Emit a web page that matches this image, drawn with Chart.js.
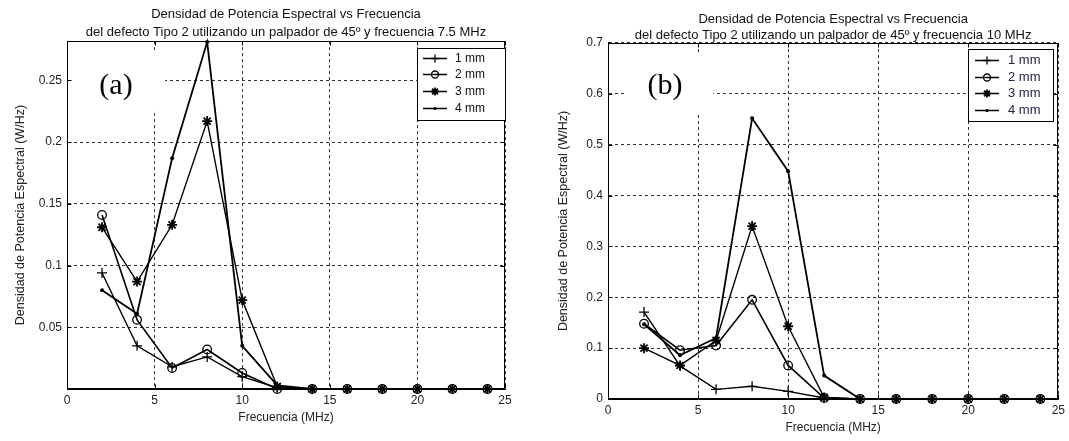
<!DOCTYPE html>
<html>
<head>
<meta charset="utf-8">
<script src="https://cdn.jsdelivr.net/npm/chart.js@4.4.0/dist/chart.umd.min.js"></script>
<style>
  body { margin: 0; background: #fff; }
  .panel { position: absolute; top: 0; }
</style>
</head>
<body>
<canvas id="chartA" class="panel" style="left:0px" width="535" height="441"></canvas>
<canvas id="chartB" class="panel" style="left:535px" width="534" height="441"></canvas>
<script>
// frequencies (MHz) where the spectra were sampled
const freq = [2, 4, 6, 8, 10, 12, 14, 16, 18, 20, 22, 24];
const seriesLabels = ['1 mm', '2 mm', '3 mm', '4 mm'];

// (a) 7.5 MHz probe
const a1mm = [0.094, 0.035, 0.018, 0.026, 0.010, 0.001, 0, 0, 0, 0, 0, 0];
const a2mm = [0.141, 0.056, 0.017, 0.032, 0.013, 0.000, 0, 0, 0, 0, 0, 0];
const a3mm = [0.131, 0.087, 0.133, 0.217, 0.072, 0.002, 0, 0, 0, 0, 0, 0];
const a4mm = [0.080, 0.061, 0.187, 0.281, 0.035, 0.003, 0, 0, 0, 0, 0, 0];

// (b) 10 MHz probe
const b1mm = [0.171, 0.065, 0.019, 0.025, 0.015, 0.002, 0, 0, 0, 0, 0, 0];
const b2mm = [0.148, 0.096, 0.105, 0.195, 0.066, 0.002, 0, 0, 0, 0, 0, 0];
const b3mm = [0.100, 0.066, 0.115, 0.340, 0.143, 0.003, 0, 0, 0, 0, 0, 0];
const b4mm = [0.147, 0.086, 0.120, 0.552, 0.448, 0.046, 0, 0, 0, 0, 0, 0];

const titleA = ['Densidad de Potencia Espectral vs Frecuencia',
                'del defecto Tipo 2 utilizando un palpador de 45º y frecuencia 7.5 MHz'];
const titleB = ['Densidad de Potencia Espectral vs Frecuencia',
                'del defecto Tipo 2 utilizando un palpador de 45º y frecuencia 10 MHz'];
const xTitle = 'Frecuencia (MHz)';
const yTitle = 'Densidad de Potencia Espectral (W/Hz)';

Chart.defaults.font.family = '"Liberation Sans", Arial, sans-serif';
Chart.defaults.font.size = 12;
Chart.defaults.color = '#222';

// marker look for each series (matlab: + o * .)
const markers = [
    {pointStyle: 'cross', pointRadius: 5, pointBorderWidth: 1.3, pointBackgroundColor: '#000', borderWidth: 1.4},
    {pointStyle: 'circle', pointRadius: 4.3, pointBorderWidth: 1.3, pointBackgroundColor: 'rgba(0,0,0,0)', borderWidth: 1.6},
    {pointStyle: 'star', pointRadius: 5, pointBorderWidth: 1.8, pointBackgroundColor: '#000', borderWidth: 1.4},
    {pointStyle: 'circle', pointRadius: 2, pointBorderWidth: 0, pointBackgroundColor: '#000', borderWidth: 1.8}
];

function makeDatasets(list) {
    return list.map((vals, i) => Object.assign({
        label: seriesLabels[i],
        data: freq.map((f, k) => ({x: f, y: vals[k]})),
        borderColor: '#000',
        pointBorderColor: '#000',
        tension: 0,
        fill: false,
        clip: false
    }, markers[i]));
}

// box round the axes with small inward ticks, like matlab
const framePlugin = {
    id: 'frame',
    beforeDatasetsDraw(chart, args, opts) {
        const {ctx, chartArea: a, scales} = chart;
        const L = Math.round(a.left) + 0.5, R = Math.round(a.right) - 0.5;
        const T = Math.round(a.top) + 0.5, B = Math.round(a.bottom) - 0.5;
        ctx.save();
        if (opts.blank) {
            ctx.fillStyle = '#fff';
            const b = opts.blank;
            ctx.fillRect(b[0], b[1], b[2] - b[0], b[3] - b[1]);
        }
        ctx.strokeStyle = '#000';
        ctx.lineWidth = 1;
        ctx.strokeRect(L, T, R - L, B - T);
        ctx.beginPath();
        scales.x.ticks.forEach(t => {
            const px = Math.round(scales.x.getPixelForValue(t.value)) + 0.5;
            ctx.moveTo(px, B); ctx.lineTo(px, B - 4);
            ctx.moveTo(px, T); ctx.lineTo(px, T + 4);
        });
        scales.y.ticks.forEach(t => {
            const py = Math.round(scales.y.getPixelForValue(t.value)) + 0.5;
            ctx.moveTo(L, py); ctx.lineTo(L + 4, py);
            ctx.moveTo(R, py); ctx.lineTo(R - 4, py);
        });
        ctx.stroke();
        if (opts.tag) {
            ctx.fillStyle = '#000';
            ctx.font = '30px "Liberation Serif", "Times New Roman", serif';
            ctx.textAlign = 'center';
            ctx.textBaseline = 'middle';
            ctx.fillText(opts.tag, opts.tagX, opts.tagY);
        }
        ctx.restore();
    }
};

const boxLegend = {
    id: 'boxLegend',
    afterDatasetsDraw(chart, args, o) {
        const ctx = chart.ctx;
        ctx.save();
        ctx.fillStyle = '#fff';
        ctx.fillRect(o.x, o.y, o.w, o.h);
        ctx.strokeStyle = '#000';
        ctx.lineWidth = 1;
        ctx.strokeRect(o.x + 0.5, o.y + 0.5, o.w, o.h);
        chart.data.datasets.forEach((ds, i) => {
            const cy = Math.round(o.y + o.first + i * o.gap) + 0.5;
            const x0 = o.x + o.lineStart;
            ctx.strokeStyle = '#000';
            ctx.lineWidth = 1.5;
            ctx.beginPath();
            ctx.moveTo(x0, cy);
            ctx.lineTo(x0 + o.lineLen, cy);
            ctx.stroke();
            ctx.fillStyle = ds.pointBackgroundColor;
            ctx.lineWidth = ds.pointBorderWidth;
            Chart.helpers.drawPoint(ctx, {
                pointStyle: ds.pointStyle,
                radius: ds.pointStyle === 'circle' && ds.pointRadius > 2 ? 3.5 : ds.pointRadius * 0.8,
                borderWidth: ds.pointBorderWidth,
                rotation: 0
            }, x0 + o.lineLen / 2, cy);
            ctx.fillStyle = o.color;
            ctx.font = o.size + 'px "Liberation Sans", Arial, sans-serif';
            ctx.textAlign = 'left';
            ctx.textBaseline = 'middle';
            ctx.fillText(ds.label, o.x + o.textX, cy);
        });
        ctx.restore();
    }
};

function makeChart(id, cfg) {
    return new Chart(document.getElementById(id), {
        type: 'line',
        data: {datasets: makeDatasets(cfg.series)},
        options: {
            responsive: false,
            animation: false,
            layout: {padding: {left: 0, right: cfg.padRight, top: 0, bottom: 0}},
            plugins: {
                legend: {display: false},
                tooltip: {enabled: false},
                title: {
                    display: true,
                    text: cfg.title,
                    fullSize: false,
                    color: '#111',
                    font: {size: 13, weight: 'normal', lineHeight: cfg.titleLH},
                    padding: {top: cfg.titleTop, bottom: 0}
                },
                frame: cfg.frame,
                boxLegend: cfg.legend
            },
            scales: {
                x: {
                    type: 'linear',
                    min: 0,
                    max: 25,
                    ticks: {stepSize: 5, padding: 4, color: '#222', maxRotation: 0},
                    grid: {color: '#333', lineWidth: 1, drawTicks: false},
                    border: {display: true, color: '#000', dash: [3, 3]},
                    title: {display: true, text: xTitle, color: '#222', padding: {top: 0, bottom: cfg.xTitlePad}},
                    afterFit: s => { s.height = cfg.xHeight; }
                },
                y: {
                    min: 0,
                    max: cfg.yMax,
                    ticks: {
                        stepSize: cfg.yStep,
                        includeBounds: false,
                        padding: 5,
                        color: '#222',
                        callback: v => (v === 0 && cfg.hideZero) ? '' : String(+v.toFixed(2))
                    },
                    grid: {color: '#333', lineWidth: 1, drawTicks: false},
                    border: {display: true, color: '#000', dash: [3, 3]},
                    title: {display: true, text: yTitle, color: '#222', font: {size: 12.5}, padding: {top: cfg.yTitlePad, bottom: 0}},
                    afterFit: s => { s.width = cfg.yWidth; }
                }
            }
        },
        plugins: [framePlugin, boxLegend]
    });
}

makeChart('chartA', {
    series: [a1mm, a2mm, a3mm, a4mm],
    title: titleA,
    titleLH: 1.35,
    titleTop: 6,
    padRight: 30,
    yMax: 0.2818,
    yStep: 0.05,
    hideZero: true,
    yWidth: 67,
    xHeight: 52,
    xTitlePad: 16,
    yTitlePad: 13,
    frame: {blank: [74, 50, 165, 110], tag: '(a)', tagX: 116, tagY: 86},
    legend: {x: 417, y: 48, w: 88, h: 72, first: 9.5, gap: 16.8, lineStart: 6, lineLen: 24, textX: 38, size: 12, color: '#111'}
});

makeChart('chartB', {
    series: [b1mm, b2mm, b3mm, b4mm],
    title: titleB,
    titleLH: 1.23,
    titleTop: 11,
    padRight: 9,
    yMax: 0.7,
    yStep: 0.1,
    hideZero: false,
    yWidth: 73,
    xHeight: 42,
    xTitlePad: 6,
    yTitlePad: 21,
    frame: {blank: [92, 55, 178, 112], tag: '(b)', tagX: 130, tagY: 86},
    legend: {x: 433, y: 49, w: 85, h: 72, first: 11, gap: 16.7, lineStart: 7, lineLen: 24, textX: 40, size: 13, color: '#22224a'}
});
</script>
</body>
</html>
